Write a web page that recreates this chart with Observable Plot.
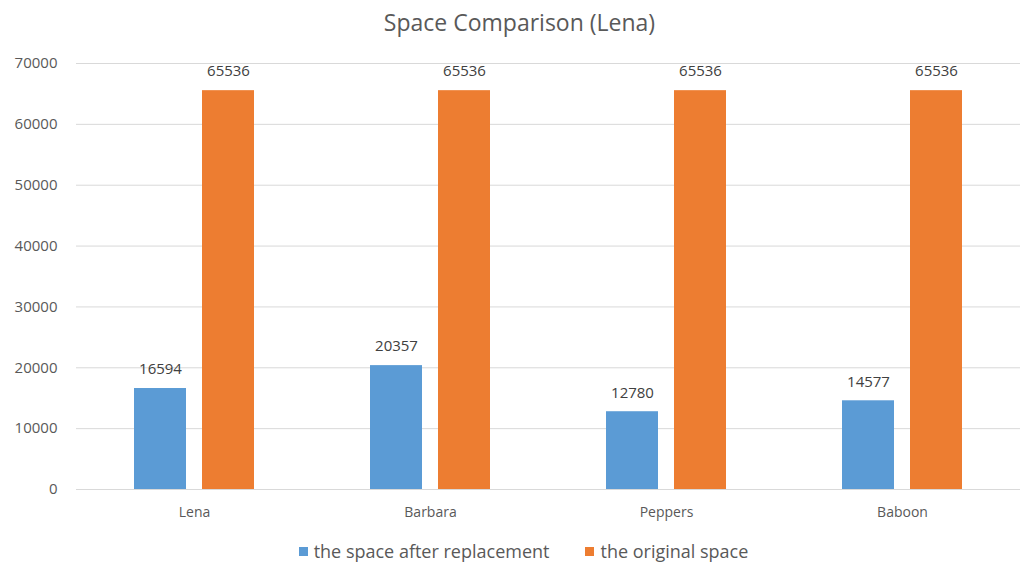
<!DOCTYPE html>
<html><head><meta charset="utf-8">
<script src="https://cdn.jsdelivr.net/npm/d3@7"></script>
<script src="https://cdn.jsdelivr.net/npm/@observablehq/plot@0.6"></script>
<style>
body{margin:0;background:#fff;font-family:"Open Sans",sans-serif;}
#wrap{width:1021px;height:567px;position:relative;overflow:hidden;}
#title{position:absolute;top:0;left:0;width:1021px;height:45px;line-height:44px;text-align:center;font-size:23px;color:#595959;padding-left:18px;box-sizing:border-box;}
#chart{position:absolute;top:45px;left:0;}
#legend{position:absolute;top:536px;left:0;width:1021px;height:30px;display:flex;justify-content:center;align-items:center;font-size:18px;color:#595959;padding-left:26px;box-sizing:border-box;}
.item{display:flex;align-items:center;margin:0 18px;}
.sw{width:9px;height:9px;margin-right:6px;}
</style></head>
<body><div id="wrap"><div id="title"></div><div id="chart"></div><div id="legend"></div></div>
<script>
const titleText = "Space Comparison (Lena)";
const categories = ["Lena", "Barbara", "Peppers", "Baboon"];
const seriesNames = ["the space after replacement", "the original space"];
const afterReplacement = [16594, 20357, 12780, 14577];
const originalSpace = [65536, 65536, 65536, 65536];
const yTicks = [0, 10000, 20000, 30000, 40000, 50000, 60000, 70000];
const colors = ["#5B9BD5", "#ED7D31"];

const data = [];
categories.forEach((c, i) => {
  data.push({category: c, series: seriesNames[0], value: afterReplacement[i]});
  data.push({category: c, series: seriesNames[1], value: originalSpace[i]});
});

document.getElementById("title").textContent = titleText;

const chart = Plot.plot({
  width: 1021,
  height: 490,
  marginTop: 18,
  marginBottom: 46,
  marginLeft: 74,
  marginRight: 0,
  style: {fontFamily: "'Open Sans', sans-serif", background: "#fff"},
  fx: {domain: categories, padding: 0, label: null},
  x: {domain: seriesNames, paddingInner: 0.234, paddingOuter: 0.845, axis: null},
  y: {domain: [0, 70000], label: null},
  color: {domain: seriesNames, range: colors},
  marks: [
    Plot.gridY(yTicks, {stroke: "#d9d9d9", strokeOpacity: 1, strokeWidth: 1}),
    Plot.axisY(yTicks, {tickSize: 0, tickPadding: 19, tickFormat: d => String(d), fontSize: 15, color: "#595959", label: null}),
    Plot.axisFx({anchor: "bottom", tickSize: 0, tickPadding: 18, fontSize: 14, color: "#595959", label: null}),
    Plot.barY(data, {fx: "category", x: "series", y: "value", fill: "series"}),
    Plot.text(data, {fx: "category", x: "series", y: "value", text: d => String(d.value), dy: -19, fontSize: 15, fill: "#404040"})
  ]
});
document.getElementById("chart").appendChild(chart);

const legend = document.getElementById("legend");
seriesNames.forEach((s, i) => {
  const item = document.createElement("div");
  item.className = "item";
  const sw = document.createElement("div");
  sw.className = "sw";
  sw.style.background = colors[i];
  const label = document.createElement("span");
  label.textContent = s;
  item.appendChild(sw);
  item.appendChild(label);
  legend.appendChild(item);
});
</script></body></html>
